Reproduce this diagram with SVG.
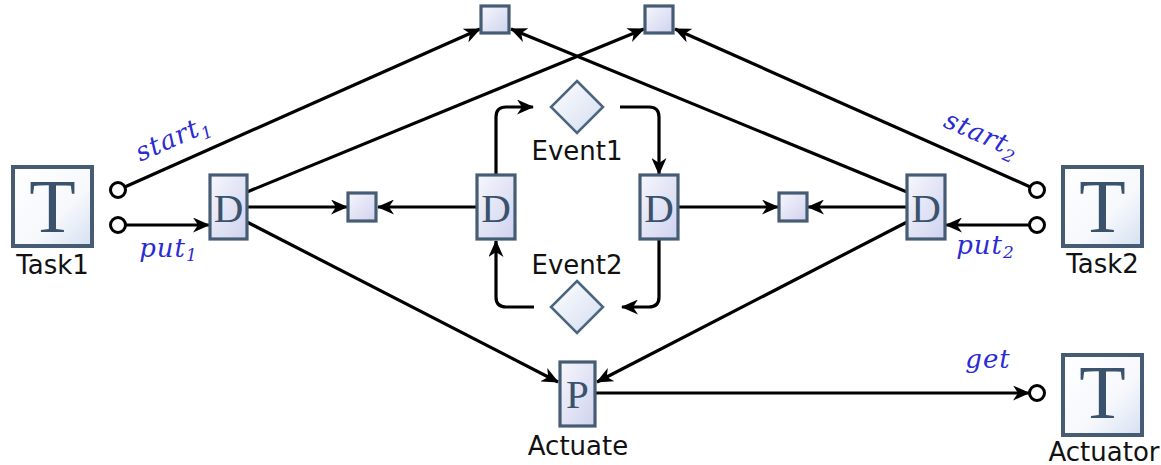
<svg xmlns="http://www.w3.org/2000/svg" width="1161" height="465" viewBox="0 0 1161 465">
<defs>
<linearGradient id="gNode" x1="0" y1="0" x2="1" y2="1">
<stop offset="0" stop-color="#f6f7fd"/><stop offset="1" stop-color="#cfd2ee"/>
</linearGradient>
<linearGradient id="gTask" x1="0" y1="0" x2="1" y2="1">
<stop offset="0" stop-color="#ffffff"/><stop offset="0.6" stop-color="#f6f8fc"/><stop offset="1" stop-color="#d6e0f2"/>
</linearGradient>
<linearGradient id="gDia" x1="0" y1="0" x2="1" y2="1">
<stop offset="0" stop-color="#ffffff"/><stop offset="1" stop-color="#d3dcf0"/>
</linearGradient>
<marker id="arr" markerUnits="userSpaceOnUse" viewBox="0 0 18 15" markerWidth="18" markerHeight="15" refX="16" refY="7.5" orient="auto">
<path d="M0,0 L17,7.5 L0,15 L5,7.5 z" fill="#000"/>
</marker>
</defs>
<style>
.node{fill:url(#gNode);stroke:#465c74;stroke-width:3.2}
.task{fill:url(#gTask);stroke:#465c74;stroke-width:4}
.dia{fill:url(#gDia);stroke:#4a6580;stroke-width:2.5}
.port{fill:#fff;stroke:#000;stroke-width:3}
.edge{fill:none;stroke:#000;stroke-width:3.2;marker-end:url(#arr)}
.big{font-family:"Liberation Serif",serif;fill:#3a526c;text-anchor:middle}
.lbl{font-family:"DejaVu Sans",sans-serif;font-size:26px;fill:#111;text-anchor:middle}
.math{font-family:"DejaVu Serif",serif;font-style:italic;font-size:26px;letter-spacing:1px;fill:#2b2bd4;text-anchor:middle}
.sub{font-size:17px;letter-spacing:0}
</style>

<g id="connectors">
<path class="edge" d="M125.3,186.7 L480,29"/>
<path class="edge" d="M247,192 L644,29"/>
<path class="edge" d="M907,192 L511,29"/>
<path class="edge" d="M1029.7,186.7 L675,29"/>
<path class="edge" d="M126,225 L209,225"/>
<path class="edge" d="M1029,225 L946,225"/>
<path class="edge" d="M247,207 L347,207"/>
<path class="edge" d="M477,207 L378,207"/>
<path class="edge" d="M678,207 L778,207"/>
<path class="edge" d="M907,207 L808,207"/>
<path class="edge" d="M247,222 L558,382"/>
<path class="edge" d="M907,222 L597,382"/>
<path class="edge" d="M595,393 L1029,393"/>
<path class="edge" d="M496,175 V117 Q496,107 506,107 H533"/>
<path class="edge" d="M620,107 H649 Q659,107 659,117 V174"/>
<path class="edge" d="M659,240 V297 Q659,307 649,307 H622"/>
<path class="edge" d="M534,307 H506 Q496,307 496,297 V241"/>
</g>

<g id="labels">
<text class="math" transform="translate(176,146) rotate(-24)">start<tspan class="sub" dy="6">1</tspan></text>
<text class="math" x="168" y="257">put<tspan class="sub" dy="4">1</tspan></text>
<text class="math" transform="translate(978,142) rotate(24)">start<tspan class="sub" dy="6">2</tspan></text>
<text class="math" x="985" y="254">put<tspan class="sub" dy="4">2</tspan></text>
<text class="math" x="988" y="368">get</text>
</g>

<g id="task1">
<rect class="task" x="13" y="167" width="79" height="79"/>
<text class="big" x="52.5" y="232" font-size="76">T</text>
<text class="lbl" x="52.5" y="274">Task1</text>
</g>
<g id="task2">
<rect class="task" x="1063" y="167" width="79" height="79"/>
<text class="big" x="1102.5" y="232" font-size="76">T</text>
<text class="lbl" x="1102.5" y="273">Task2</text>
</g>
<g id="actuator">
<rect class="task" x="1063" y="355" width="79" height="80"/>
<text class="big" x="1102.5" y="418" font-size="76">T</text>
<text class="lbl" x="1104" y="461">Actuator</text>
</g>

<g id="port-start1"><circle class="port" cx="118" cy="190" r="7.5"/></g>
<g id="port-put1"><circle class="port" cx="118" cy="225" r="7.5"/></g>
<g id="port-start2"><circle class="port" cx="1037" cy="190" r="7.5"/></g>
<g id="port-put2"><circle class="port" cx="1037" cy="225" r="7.5"/></g>
<g id="port-get"><circle class="port" cx="1037" cy="393" r="7.5"/></g>

<g id="d1">
<rect class="node" x="210" y="175" width="37" height="64"/>
<text class="big" x="228.5" y="222" font-size="41">D</text>
</g>
<g id="d-center-left">
<rect class="node" x="477" y="175" width="38" height="64"/>
<text class="big" x="496" y="222" font-size="41">D</text>
</g>
<g id="d-center-right">
<rect class="node" x="640" y="175" width="38" height="64"/>
<text class="big" x="659" y="222" font-size="41">D</text>
</g>
<g id="d2">
<rect class="node" x="907" y="175" width="38" height="64"/>
<text class="big" x="926" y="222" font-size="41">D</text>
</g>
<g id="p-actuate">
<rect class="node" x="560" y="362" width="35" height="64"/>
<text class="big" x="577.5" y="408" font-size="41">P</text>
<text class="lbl" x="578" y="455">Actuate</text>
</g>

<g id="sq-top1"><rect class="node" x="481" y="6" width="28" height="27"/></g>
<g id="sq-top2"><rect class="node" x="645" y="6" width="28" height="27"/></g>
<g id="sq-mid1"><rect class="node" x="348" y="193" width="28" height="28"/></g>
<g id="sq-mid2"><rect class="node" x="779" y="193" width="28" height="28"/></g>

<g id="event1">
<polygon class="dia" points="577,81 603,107 577,133 551,107"/>
<text class="lbl" x="577" y="160">Event1</text>
</g>
<g id="event2">
<polygon class="dia" points="577,281 603,307 577,333 551,307"/>
<text class="lbl" x="577" y="274">Event2</text>
</g>
</svg>
